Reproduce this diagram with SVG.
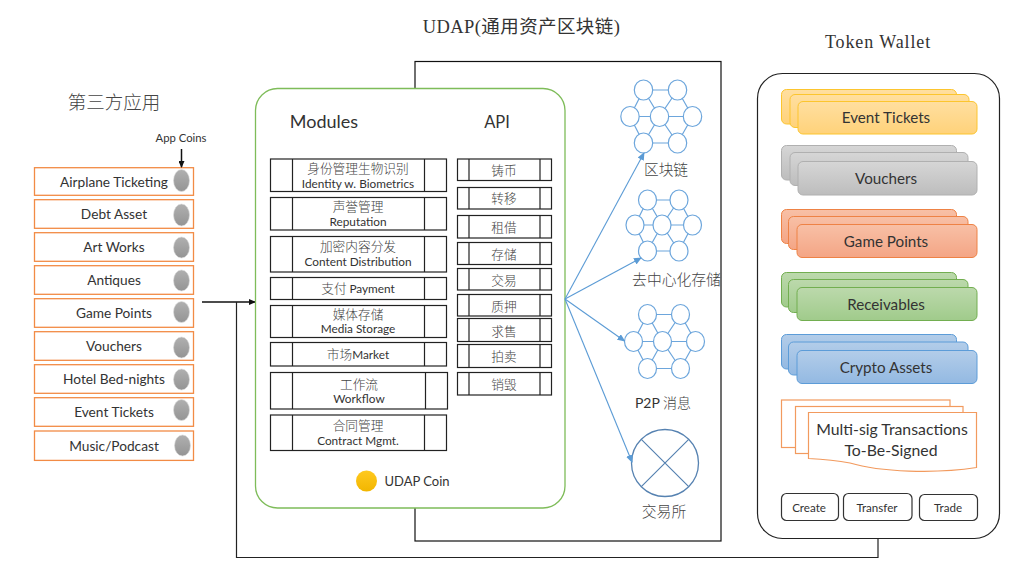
<svg xmlns="http://www.w3.org/2000/svg" width="1024" height="576" viewBox="0 0 1024 576">
<style>
text{font-family:"Lato","Noto Sans CJK SC",sans-serif;fill:#333;text-anchor:middle}
.cn{font-family:"Noto Sans CJK SC",sans-serif;font-weight:300;fill:#444}
.en{font-family:"Lato",sans-serif;font-weight:400;fill:#333}
.serif{font-family:"Liberation Serif","Noto Sans CJK SC",serif;fill:#333}
.t13{font-size:13.7px}.t11{font-size:11.8px}.cn12{font-size:12.7px}
.app{fill:#fff;stroke:#f28b45;stroke-width:1.3}
.coin{fill:url(#gGrey);stroke:#ddd;stroke-width:.6}
.box{fill:#fff;stroke:#222;stroke-width:1.2}
.ln{fill:none;stroke:#222;stroke-width:1.2}
.net ellipse{fill:#fff;stroke:#6da6dc;stroke-width:1.2}
.net path{fill:none;stroke:#6da6dc;stroke-width:1.2}
.yel{fill:url(#gYel);stroke:#fcc52e;stroke-width:1}
.gry{fill:url(#gCard);stroke:#b0b0b0;stroke-width:1}
.org{fill:url(#gOrg);stroke:#ee8245;stroke-width:1}
.grn{fill:url(#gGrn);stroke:#72ae50;stroke-width:1}
.blu{fill:url(#gBlu);stroke:#5c9cd8;stroke-width:1}
.doc{fill:#fff;stroke:#f29a5e;stroke-width:1.2}
.btn{fill:#fff;stroke:#333;stroke-width:1.2}
.card{font-size:15.2px}
.bt{font-size:11.6px}
.bl{fill:none;stroke:#5b9bd5;stroke-width:1.1;marker-end:url(#arL)}
</style>
<defs>
<linearGradient id="gGrey" x1="0" y1="0" x2="0" y2="1"><stop offset="0" stop-color="#b0b0b0"/><stop offset="1" stop-color="#949494"/></linearGradient>
<linearGradient id="gGold" x1="0" y1="0" x2="0" y2="1"><stop offset="0" stop-color="#ffc91f"/><stop offset="1" stop-color="#f2b600"/></linearGradient>
<linearGradient id="gYel" x1="0" y1="0" x2="0" y2="1"><stop offset="0" stop-color="#ffdfa0"/><stop offset="1" stop-color="#ffd27a"/></linearGradient>
<linearGradient id="gCard" x1="0" y1="0" x2="0" y2="1"><stop offset="0" stop-color="#d6d6d6"/><stop offset="1" stop-color="#bdbdbd"/></linearGradient>
<linearGradient id="gOrg" x1="0" y1="0" x2="0" y2="1"><stop offset="0" stop-color="#f8c0a6"/><stop offset="1" stop-color="#f4a585"/></linearGradient>
<linearGradient id="gGrn" x1="0" y1="0" x2="0" y2="1"><stop offset="0" stop-color="#bcd9ac"/><stop offset="1" stop-color="#a0cb8b"/></linearGradient>
<linearGradient id="gBlu" x1="0" y1="0" x2="0" y2="1"><stop offset="0" stop-color="#b3cde9"/><stop offset="1" stop-color="#93b9e2"/></linearGradient>
<marker id="arB" markerWidth="7" markerHeight="6" refX="6" refY="3" orient="auto" markerUnits="userSpaceOnUse"><path d="M0 0L7 3L0 6Z" fill="#111"/></marker>
<marker id="arL" markerWidth="8" markerHeight="7" refX="7" refY="3.500" orient="auto" markerUnits="userSpaceOnUse"><path d="M0 0L8 3.500L0 7Z" fill="#5b9bd5"/></marker>
</defs>

<g id="udap-backplate"><rect x="415" y="61.500" width="306" height="479.500" fill="#fff" stroke="#111" stroke-width="1.200"/></g>
<g id="udap-title"><text class="serif" x="521.500" y="33" font-size="18.500" letter-spacing=".4">UDAP(通用资产区块链)</text></g>
<g id="wallet-title"><text class="serif" x="878" y="48" font-size="18" letter-spacing=".9">Token Wallet</text></g>
<g id="apps-title"><text class="cn" x="114" y="109" font-size="18.500">第三方应用</text></g>
<g id="app-coins-label"><text x="181" y="142" font-size="11.300">App Coins</text></g>

<g id="app-airplane"><rect class="app" x="34.500" y="167.700" width="159" height="27.600"/><text class="t13" x="114" y="187">Airplane Ticketing</text><ellipse class="coin" cx="181.500" cy="180.500" rx="8" ry="11"/></g>
<g id="app-debt"><rect class="app" x="34.500" y="199.700" width="159" height="28.600"/><text class="t13" x="114" y="219">Debt Asset</text><ellipse class="coin" cx="181.500" cy="215" rx="8" ry="11"/></g>
<g id="app-art"><rect class="app" x="34.500" y="232.700" width="159" height="28.600"/><text class="t13" x="114" y="252">Art Works</text><ellipse class="coin" cx="181.500" cy="247.500" rx="8" ry="10.500"/></g>
<g id="app-antiques"><rect class="app" x="34.500" y="265.700" width="159" height="28.600"/><text class="t13" x="114" y="285">Antiques</text><ellipse class="coin" cx="181.500" cy="280.500" rx="8" ry="10.500"/></g>
<g id="app-game"><rect class="app" x="34.500" y="298.700" width="159" height="28.600"/><text class="t13" x="114" y="318">Game Points</text><ellipse class="coin" cx="181.500" cy="312" rx="8" ry="10.500"/></g>
<g id="app-vouchers"><rect class="app" x="34.500" y="331.700" width="159" height="28.600"/><text class="t13" x="114" y="351">Vouchers</text><ellipse class="coin" cx="181.500" cy="347.500" rx="8" ry="10.500"/></g>
<g id="app-hotel"><rect class="app" x="34.500" y="364.700" width="159" height="28.600"/><text class="t13" x="114" y="384">Hotel Bed-nights</text><ellipse class="coin" cx="181.500" cy="379.500" rx="8" ry="10.500"/></g>
<g id="app-event"><rect class="app" x="34.500" y="397.700" width="159" height="28.600"/><text class="t13" x="114" y="417">Event Tickets</text><ellipse class="coin" cx="181.500" cy="410" rx="8" ry="10.500"/></g>
<g id="app-music"><rect class="app" x="34.500" y="431" width="159" height="29.400"/><text class="t13" x="114" y="451">Music/Podcast</text><ellipse class="coin" cx="182.500" cy="445.500" rx="8" ry="10.500"/></g>

<g id="connectors">
<path d="M181.500 149V167" fill="none" stroke="#111" stroke-width="1.500" marker-end="url(#arB)"/>
<path d="M202 302H255" fill="none" stroke="#111" stroke-width="1.500" marker-end="url(#arB)"/>
<path d="M878 538.500V557.500H236.500V302" fill="none" stroke="#222" stroke-width="1.200"/>
</g>

<g id="core"><rect x="255.500" y="88.500" width="309.500" height="419.500" rx="22" fill="#fff" stroke="#7ebc59" stroke-width="1.300"/></g>
<g id="core-heads"><text x="324" y="128" font-size="18">Modules</text><text x="497" y="128" font-size="16.500">API</text></g>

<g id="module-identity"><rect class="box" x="270.500" y="159" width="176" height="32.500"/><path class="ln" d="M292.500 159V191.500M424.500 159V191.500"/><text class="cn cn12" x="358" y="173">身份管理生物识别</text><text class="t11" x="358" y="187.500">Identity w. Biometrics</text></g>
<g id="module-reputation"><rect class="box" x="270.500" y="197.500" width="176" height="32.500"/><path class="ln" d="M292.500 197.500V230M424.500 197.500V230"/><text class="cn cn12" x="358" y="211">声誉管理</text><text class="t11" x="358" y="225.500">Reputation</text></g>
<g id="module-content"><rect class="box" x="270.500" y="236.500" width="176" height="35.500"/><path class="ln" d="M292.500 236.500V272M424.500 236.500V272"/><text class="cn cn12" x="358" y="251">加密内容分发</text><text class="t11" x="358" y="266">Content Distribution</text></g>
<g id="module-payment"><rect class="box" x="270.500" y="277.500" width="176" height="22"/><path class="ln" d="M292.500 277.500V299.500M424.500 277.500V299.500"/><text class="cn cn12" x="358" y="293"><tspan>支付 </tspan><tspan class="en t11">Payment</tspan></text></g>
<g id="module-media"><rect class="box" x="270.500" y="305.500" width="176" height="32"/><path class="ln" d="M292.500 305.500V337.500M424.500 305.500V337.500"/><text class="cn cn12" x="358" y="318.500">媒体存储</text><text class="t11" x="358" y="333">Media Storage</text></g>
<g id="module-market"><rect class="box" x="270.500" y="342.500" width="176" height="23.500"/><path class="ln" d="M292.500 342.500V366M424.500 342.500V366"/><text class="cn cn12" x="358" y="359"><tspan>市场</tspan><tspan class="en t11">Market</tspan></text></g>
<g id="module-workflow"><rect class="box" x="270.500" y="372.500" width="177" height="36.500"/><path class="ln" d="M292.500 372.500V409M425.500 372.500V409"/><text class="cn cn12" x="359" y="388.500">工作流</text><text class="t11" x="359" y="403">Workflow</text></g>
<g id="module-contract"><rect class="box" x="270.500" y="415" width="176" height="35.500"/><path class="ln" d="M292.500 415V450.500M424.500 415V450.500"/><text class="cn cn12" x="358" y="430">合同管理</text><text class="t11" x="358" y="444.500">Contract Mgmt.</text></g>

<g id="api-mint"><rect class="box" x="457.500" y="159" width="94" height="21.500"/><path class="ln" d="M469 159V180.500M540 159V180.500"/><text class="cn cn12" x="504" y="175">铸币</text></g>
<g id="api-transfer"><rect class="box" x="457.500" y="187.500" width="94" height="21.500"/><path class="ln" d="M469 187.500V209M540 187.500V209"/><text class="cn cn12" x="504" y="203">转移</text></g>
<g id="api-lease"><rect class="box" x="457.500" y="215.500" width="94" height="22.500"/><path class="ln" d="M469 215.500V238M540 215.500V238"/><text class="cn cn12" x="504" y="232">租借</text></g>
<g id="api-store"><rect class="box" x="457.500" y="242.500" width="94" height="22"/><path class="ln" d="M469 242.500V264.500M540 242.500V264.500"/><text class="cn cn12" x="504" y="258.500">存储</text></g>
<g id="api-trade"><rect class="box" x="457.500" y="268.500" width="94" height="21.500"/><path class="ln" d="M469 268.500V290M540 268.500V290"/><text class="cn cn12" x="504" y="285">交易</text></g>
<g id="api-pledge"><rect class="box" x="457.500" y="294.500" width="94" height="21.500"/><path class="ln" d="M469 294.500V316M540 294.500V316"/><text class="cn cn12" x="504" y="311">质押</text></g>
<g id="api-sell"><rect class="box" x="457.500" y="318.500" width="94" height="23"/><path class="ln" d="M469 318.500V341.500M540 318.500V341.500"/><text class="cn cn12" x="504" y="336">求售</text></g>
<g id="api-auction"><rect class="box" x="457.500" y="344.500" width="94" height="23"/><path class="ln" d="M469 344.500V367.500M540 344.500V367.500"/><text class="cn cn12" x="504" y="361">拍卖</text></g>
<g id="api-destroy"><rect class="box" x="457.500" y="372.500" width="94" height="22.500"/><path class="ln" d="M469 372.500V395M540 372.500V395"/><text class="cn cn12" x="504" y="389">销毁</text></g>

<g id="udap-coin"><circle cx="366.500" cy="481" r="10.500" fill="url(#gGold)"/><text x="417" y="486" font-size="13">UDAP Coin</text></g>

<g id="net-blockchain" class="net"><path d="M643.500 90H677.500M630 116.500H692.500M643.500 143H677.500M643.500 90L630 116.500L643.500 143M643.500 90L659.500 116.500L643.500 143M677.500 90L659.500 116.500L677.500 143M677.500 90L692.500 116.500L677.500 143"/>
<ellipse cx="643.500" cy="90" rx="9.200" ry="10"/><ellipse cx="677.500" cy="90" rx="9.200" ry="10"/><ellipse cx="630" cy="116.500" rx="9.200" ry="10"/><ellipse cx="659.500" cy="116.500" rx="9.200" ry="10"/><ellipse cx="692.500" cy="116.500" rx="9.200" ry="10"/><ellipse cx="643.500" cy="143" rx="9.200" ry="10"/><ellipse cx="677.500" cy="143" rx="9.200" ry="10"/>
<text class="cn" x="666" y="175" font-size="14.700">区块链</text></g>
<g id="net-storage" class="net"><path d="M647.500 200H679M635 225H692.500M647.500 251H679M647.500 200L635 225L647.500 251M647.500 200L662 225L647.500 251M679 200L662 225L679 251M679 200L692.500 225L679 251"/>
<ellipse cx="647.500" cy="200" rx="9" ry="10"/><ellipse cx="679" cy="200" rx="9" ry="10"/><ellipse cx="635" cy="225" rx="9" ry="10"/><ellipse cx="662" cy="225" rx="9" ry="10"/><ellipse cx="692.500" cy="225" rx="9" ry="10"/><ellipse cx="647.500" cy="251" rx="9" ry="10"/><ellipse cx="679" cy="251" rx="9" ry="10"/>
<text class="cn" x="676.500" y="285" font-size="14.800">去中心化存储</text></g>
<g id="net-p2p" class="net"><path d="M647.500 314.500H680.500M633.500 341.500H695.500M647.500 368.500H680.500M647.500 314.500L633.500 341.500L647.500 368.500M647.500 314.500L662.500 341.500L647.500 368.500M680.500 314.500L662.500 341.500L680.500 368.500M680.500 314.500L695.500 341.500L680.500 368.500"/>
<ellipse cx="647.500" cy="314.500" rx="9" ry="10"/><ellipse cx="680.500" cy="314.500" rx="9" ry="10"/><ellipse cx="633.500" cy="341.500" rx="9" ry="10"/><ellipse cx="662.500" cy="341.500" rx="9" ry="10"/><ellipse cx="695.500" cy="341.500" rx="9" ry="10"/><ellipse cx="647.500" cy="368.500" rx="9" ry="10"/><ellipse cx="680.500" cy="368.500" rx="9" ry="10"/>
<text class="cn" x="663" y="408" font-size="14"><tspan class="en">P2P </tspan>消息</text></g>
<g id="exchange"><circle cx="665" cy="463" r="33.500" fill="#fff" stroke="#5682b1" stroke-width="1.300"/><path d="M641.300 439.300L688.700 486.700M688.700 439.300L641.300 486.700" fill="none" stroke="#5682b1" stroke-width="1.200"/><text class="cn" x="664" y="517" font-size="14.800">交易所</text></g>

<g id="connectors-network">
<path class="bl" d="M565 299L644 153"/>
<path class="bl" d="M565 299L641 258"/>
<path class="bl" d="M565 299L624.500 341"/>
<path class="bl" d="M565 299L632 462"/>
</g>

<g id="wallet"><rect x="757.500" y="73.500" width="242" height="465" rx="25" fill="#fff" stroke="#222" stroke-width="1.200"/></g>

<g id="card-event"><rect class="yel" x="781.500" y="89.500" width="175" height="34.500" rx="5"/><rect class="yel" x="790" y="94.500" width="179" height="33" rx="5"/><rect class="yel" x="798" y="101.500" width="179" height="32.500" rx="5"/><text class="card" x="886" y="123">Event Tickets</text></g>
<g id="card-vouchers"><rect class="gry" x="781.500" y="145.500" width="175" height="34.500" rx="5"/><rect class="gry" x="790" y="152.500" width="178" height="33" rx="5"/><rect class="gry" x="798" y="161.500" width="179" height="33.500" rx="5"/><text class="card" x="886" y="184">Vouchers</text></g>
<g id="card-game"><rect class="org" x="781.500" y="209.500" width="175" height="34" rx="5"/><rect class="org" x="788.500" y="216.500" width="179.500" height="33" rx="5"/><rect class="org" x="797" y="224.500" width="180" height="33" rx="5"/><text class="card" x="886" y="247">Game Points</text></g>
<g id="card-receivables"><rect class="grn" x="781.500" y="272.500" width="175" height="34.500" rx="5"/><rect class="grn" x="788.500" y="279.500" width="179.500" height="33" rx="5"/><rect class="grn" x="797" y="287.500" width="180" height="33" rx="5"/><text class="card" x="886" y="310">Receivables</text></g>
<g id="card-crypto"><rect class="blu" x="781.500" y="334.500" width="175" height="34.500" rx="5"/><rect class="blu" x="788.500" y="342" width="179.500" height="33" rx="5"/><rect class="blu" x="797" y="350.500" width="180" height="33" rx="5"/><text class="card" x="886" y="373">Crypto Assets</text></g>

<g id="card-multisig"><rect class="doc" x="781.500" y="400" width="168.500" height="47.500"/><rect class="doc" x="795.500" y="406.500" width="167.500" height="47"/>
<path class="doc" d="M808.500 412.500H976.500V467.500C935 474 880 472 850 463C835 460 820 459 808.500 458.500Z"/>
<text x="892" y="435" font-size="15.800">Multi-sig Transactions</text><text x="891" y="456" font-size="15.800">To-Be-Signed</text></g>

<g id="btn-create"><rect class="btn" x="781.500" y="493.500" width="57" height="27" rx="5"/><text class="bt" x="809" y="512">Create</text></g>
<g id="btn-transfer"><rect class="btn" x="843.500" y="493.500" width="68.500" height="27" rx="5"/><text class="bt" x="877" y="512">Transfer</text></g>
<g id="btn-trade"><rect class="btn" x="919.500" y="494.500" width="58" height="26" rx="5"/><text class="bt" x="948" y="512">Trade</text></g>
</svg>
